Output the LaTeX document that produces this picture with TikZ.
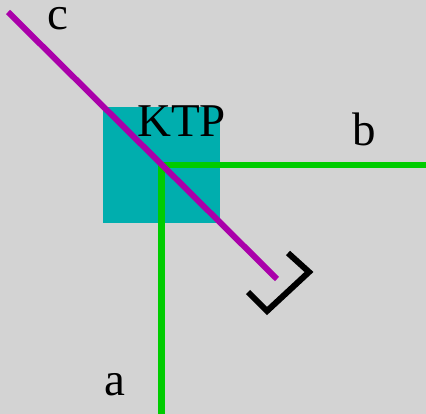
\documentclass[tikz,border=0pt]{standalone}
\usepackage{fontspec}
\setmainfont{Liberation Serif}
\usetikzlibrary{positioning}
\definecolor{fundo}{RGB}{211, 211, 211}
\definecolor{turquesa}{RGB}{0, 174, 174}
\definecolor{verdeclaro}{RGB}{0, 204, 0}
\definecolor{magenta}{RGB}{170, 0, 170}
\tikzset{
  cristal/.style={fill=turquesa, draw=none, minimum width=117pt, minimum height=116pt, inner sep=0pt},
  rotulo/.style={font=\fontsize{47}{50}\selectfont, inner sep=0pt, anchor=base west},
  feixeV/.style={draw=verdeclaro, line width=6.7pt},
  feixeM/.style={draw=magenta, line width=6pt},
  espelho/.style={draw=black, line width=6pt, line join=miter},
}
\begin{document}
\begin{tikzpicture}[x=1pt, y=-1pt]
        \fill[fundo] (0,0) rectangle (426,414);
        \useasboundingbox (0,0) rectangle (426,414);

        \node[cristal] (ktp) at (161.5,165) {};

        \node[rotulo] (lc)   at (47,30)   {c};
        \node[rotulo] (lktp) at (137,137) {KTP};
        \node[rotulo] (lb)   at (352,146) {b};
        \node[rotulo] (la)   at (104,395) {a};

        \coordinate (a0)  at (161.7,414);
        \coordinate (ab)  at (161.7,165);
        \coordinate (b0)  at (426,165);
        \coordinate (c0)  at (8,12);
        \coordinate (c1)  at (277,279);
        \coordinate (e1)  at (288,253);
        \coordinate (e2)  at (309,272);
        \coordinate (e3)  at (267,311);
        \coordinate (e4)  at (248,292);

        \draw[feixeV] (a0) -- (ab) -- (b0);
        \draw[feixeM] (c0) -- (c1);
        \draw[espelho] (e1) -- (e2) -- (e3) -- (e4);
      \end{tikzpicture}
\end{document}
